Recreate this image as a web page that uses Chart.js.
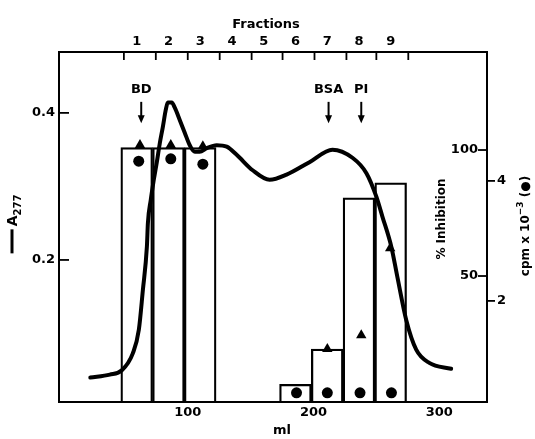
<!DOCTYPE html>
<html><head><meta charset="utf-8">
<script src="https://cdn.jsdelivr.net/npm/chart.js@4"></script>
<style>html,body{margin:0;padding:0;background:#fff}#wrap{width:535px;height:439px;position:relative}</style>
</head><body><div id="wrap"><canvas id="c"></canvas></div>
<script>
// ---- data ----
const mlTicks = [100, 200, 300];
const a277Ticks = [0.2, 0.4];
const inhibitionTicks = [50, 100];
const cpmTicks = [2, 4];
const fractionLabels = ['1', '2', '3', '4', '5', '6', '7', '8', '9'];
const fractionCenters = [59.4, 84.65, 109.9, 135.15, 160.4, 185.65, 210.9, 236.15, 261.4];
const fractionEdges = [49.2, 74.6, 100, 125.4, 150.8, 175.4, 200.8, 226.2, 250, 275.4];
const inhibitionBars = [101, 101, 101, 0, 0, 7, 21, 81, 87];
const curveMl = [22.5, 38, 47.6, 56.3, 61.1, 64.3, 67.5, 68.3, 70.6, 73.0, 75.4, 77.8, 80.2, 82.5, 84.1, 87.3, 89.7, 93.7, 97.6, 101.6, 105.6, 109.5, 115.1, 123.0, 131.0, 138.9, 151.6, 165.1, 178.6, 196.8, 215.1, 231.0, 242.1, 250.0, 254.8, 261.9, 266.7, 273.8, 281.7, 292.1, 309.5];
const curveA277 = [0.040, 0.044, 0.050, 0.073, 0.105, 0.159, 0.218, 0.250, 0.282, 0.309, 0.333, 0.359, 0.381, 0.404, 0.414, 0.414, 0.407, 0.390, 0.373, 0.356, 0.347, 0.347, 0.352, 0.356, 0.354, 0.343, 0.322, 0.309, 0.316, 0.333, 0.350, 0.339, 0.318, 0.286, 0.259, 0.218, 0.177, 0.118, 0.078, 0.060, 0.052];
const cpmMl = [61, 86.5, 112, 186.5, 211, 237, 262];
const cpmValues = [4.33, 4.37, 4.28, 0.47, 0.47, 0.47, 0.47];
const triangleMl = [62, 86.5, 112, 211, 238, 261];
const triangleInhibition = [102, 102, 101.5, 21, 26.5, 61];
const annotLabels = ['BD', 'BSA', 'PI'];
const annotMl = [63, 212, 238];
const annotTextA = 0.432, arrowTopA = 0.415, arrowTipA = 0.386;

const FONT = '"DejaVu Sans", sans-serif';
const tickFont = {family: FONT, size: 13, weight: 'bold'};

const decor = {
  id: 'decor',
  afterDraw(chart) {
    const {ctx, chartArea: ca, scales: s} = chart;
    ctx.save();
    ctx.strokeStyle = '#000'; ctx.fillStyle = '#000';
    const seg = (x1, y1, x2, y2) => { ctx.beginPath(); ctx.moveTo(x1, y1); ctx.lineTo(x2, y2); ctx.stroke(); };
    ctx.lineWidth = 1.8;
    fractionEdges.forEach(v => { const x = s.xTop.getPixelForValue(v); seg(x, ca.top, x, ca.top + 8); });
    a277Ticks.forEach(v => { const y = s.y.getPixelForValue(v); seg(ca.left, y, ca.left + 10, y); });
    inhibitionTicks.forEach(v => { const y = s.pct.getPixelForValue(v); seg(ca.right - 9, y, ca.right, y); });
    // annotations
    ctx.font = 'bold 13px ' + FONT; ctx.textAlign = 'center'; ctx.textBaseline = 'middle';
    annotLabels.forEach((t, i) => {
      const x = s.x.getPixelForValue(annotMl[i]);
      ctx.fillText(t, x, s.y.getPixelForValue(annotTextA));
      const y1 = s.y.getPixelForValue(arrowTopA), y2 = s.y.getPixelForValue(arrowTipA);
      ctx.lineWidth = 2; seg(x, y1, x, y2 - 5);
      ctx.beginPath(); ctx.moveTo(x - 3.5, y2 - 8); ctx.lineTo(x + 3.5, y2 - 8); ctx.lineTo(x, y2); ctx.closePath(); ctx.fill();
    });
    // titles
    ctx.font = 'bold 13px ' + FONT;
    ctx.fillText('Fractions', ca.left + 207, 25);
    ctx.fillText('ml', ca.left + 223, 431);
    // left title
    ctx.save();
    ctx.translate(17, 224); ctx.rotate(-Math.PI / 2);
    ctx.textAlign = 'left'; ctx.textBaseline = 'alphabetic';
    ctx.font = 'bold 14px ' + FONT; const wA = ctx.measureText('A').width;
    ctx.font = 'bold 10px ' + FONT; const wS = ctx.measureText('277').width;
    const dashW = 24, tot = dashW + 3 + wA + wS;
    let px = -tot / 2;
    ctx.lineWidth = 3; seg(px, -5, px + dashW, -5); px += dashW + 3;
    ctx.font = 'bold 14px ' + FONT; ctx.fillText('A', px, 0); px += wA;
    ctx.font = 'bold 10px ' + FONT; ctx.fillText('277', px, 4);
    ctx.restore();
    // % Inhibition (inside frame)
    ctx.save();
    ctx.translate(ca.right - 45, 219); ctx.rotate(-Math.PI / 2);
    ctx.font = 'bold 12px ' + FONT; ctx.textAlign = 'center'; ctx.textBaseline = 'middle';
    ctx.fillText('% Inhibition', 0, 0);
    ctx.restore();
    // cpm title
    ctx.save();
    ctx.translate(ca.right + 39, 226); ctx.rotate(-Math.PI / 2);
    ctx.textAlign = 'left'; ctx.textBaseline = 'middle';
    ctx.font = 'bold 12px ' + FONT; const w1 = ctx.measureText('cpm x 10').width, w3 = ctx.measureText(' (●)').width;
    ctx.font = 'bold 9px ' + FONT; const w2 = ctx.measureText('−3').width;
    let qx = -(w1 + w2 + w3) / 2;
    ctx.font = 'bold 12px ' + FONT; ctx.fillText('cpm x 10', qx, 0); qx += w1;
    ctx.font = 'bold 9px ' + FONT; ctx.fillText('−3', qx, -5); qx += w2;
    ctx.font = 'bold 12px ' + FONT; ctx.fillText(' (●)', qx, 0);
    ctx.restore();
    ctx.restore();
  }
};

const border = {display: true, color: '#000', width: 2};
const noGrid = {display: false, drawTicks: false, offset: false};

new Chart(document.getElementById('c'), {
  type: 'line',
  data: {
    datasets: [
      {
        type: 'line', label: 'A277',
        data: curveMl.map((x, i) => ({x, y: curveA277[i]})),
        xAxisID: 'x', yAxisID: 'y',
        borderColor: '#000', borderWidth: 4, pointRadius: 0, fill: false,
        cubicInterpolationMode: 'monotone', borderCapStyle: 'round', borderJoinStyle: 'round',
        order: 0
      },
      {
        type: 'scatter', label: 'cpm',
        data: cpmMl.map((x, i) => ({x, y: cpmValues[i]})),
        xAxisID: 'x', yAxisID: 'cpm',
        pointStyle: 'circle', pointRadius: 5.5, backgroundColor: '#000', borderColor: '#000', borderWidth: 0,
        order: 1
      },
      {
        type: 'scatter', label: 'inhibition points',
        data: triangleMl.map((x, i) => ({x, y: triangleInhibition[i]})),
        xAxisID: 'x', yAxisID: 'pct',
        pointStyle: 'triangle', pointRadius: 6, backgroundColor: '#000', borderColor: '#000', borderWidth: 0,
        order: 1
      },
      {
        type: 'bar', label: '% Inhibition',
        data: fractionCenters.map((x, i) => ({x, y: inhibitionBars[i]})),
        xAxisID: 'x', yAxisID: 'pct',
        backgroundColor: 'rgba(0,0,0,0)', borderColor: '#000', borderWidth: 1.6,
        barPercentage: 1, categoryPercentage: 1, borderSkipped: 'start',
        order: 3
      }
    ]
  },
  options: {
    responsive: true, maintainAspectRatio: false, animation: false,
    layout: {padding: 0},
    plugins: {legend: {display: false}, tooltip: {enabled: false}},
    scales: {
      x: {
        type: 'linear', position: 'bottom', min: -2.4, max: 338, offset: false,
        afterBuildTicks: s => { s.ticks = mlTicks.map(v => ({value: v})); },
        afterFit: s => { s.height = 37; },
        ticks: {font: tickFont, color: '#000', padding: 3, maxRotation: 0, autoSkip: false},
        grid: noGrid, border
      },
      xTop: {
        type: 'linear', position: 'top', min: -2.4, max: 338, offset: false,
        afterBuildTicks: s => { s.ticks = fractionCenters.map(v => ({value: v})); },
        afterFit: s => { s.height = 52; },
        ticks: {font: tickFont, color: '#000', padding: 3, maxRotation: 0, autoSkip: false,
          callback: (v, i) => fractionLabels[i]},
        grid: noGrid, border
      },
      y: {
        type: 'linear', position: 'left', min: 0.0068, max: 0.4828,
        afterBuildTicks: s => { s.ticks = a277Ticks.map(v => ({value: v})); },
        afterFit: s => { s.width = 59; },
        ticks: {font: tickFont, color: '#000', padding: 4, callback: v => v.toFixed(1)},
        grid: noGrid, border
      },
      pct: {
        type: 'linear', position: 'right', min: 0, max: 138.9,
        afterBuildTicks: s => { s.ticks = inhibitionTicks.map(v => ({value: v})); },
        afterFit: s => { s.width = 0; },
        ticks: {font: tickFont, color: '#000', padding: -9, mirror: true},
        grid: noGrid, border: {display: false}
      },
      cpm: {
        type: 'linear', position: 'right', min: 0.317, max: 6.15,
        afterBuildTicks: s => { s.ticks = cpmTicks.map(v => ({value: v})); },
        afterFit: s => { s.width = 48; },
        ticks: {font: tickFont, color: '#000', padding: 2},
        grid: {display: true, drawOnChartArea: false, drawTicks: true, tickLength: 8, color: '#000', lineWidth: 1.8},
        border
      }
    }
  },
  plugins: [decor]
});
</script>
</body></html>
